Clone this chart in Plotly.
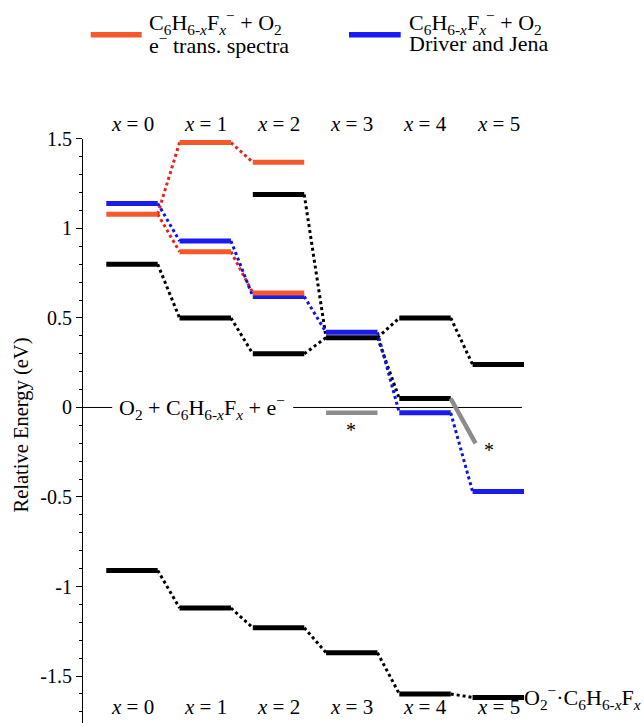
import plotly.graph_objects as go

FONT = "Liberation Serif"

# ---------------- data ----------------
columns = [0, 1, 2, 3, 4, 5]
col_labels = ["<i>x</i> = 0", "<i>x</i> = 1", "<i>x</i> = 2", "<i>x</i> = 3", "<i>x</i> = 4", "<i>x</i> = 5"]

# neutral + anion (black) levels
black_x = [0, 1, 2, 2, 3, 4, 4, 5]
black_y = [0.80, 0.50, 0.30, 1.19, 0.39, 0.50, 0.05, 0.24]
black_links = [(0, 1), (1, 2), (2, 4), (3, 4), (4, 5), (4, 6), (5, 7)]

# e- transmission spectra (red)
red_x = [0, 1, 1, 2, 2]
red_y = [1.08, 1.48, 0.87, 1.37, 0.64]
red_links = [(0, 1), (0, 2), (1, 3), (2, 4)]

# Driver and Jena (blue)
blue_x = [0, 1, 2, 3, 4, 5]
blue_y = [1.14, 0.93, 0.62, 0.42, -0.03, -0.47]
blue_links = [(0, 1), (1, 2), (2, 3), (3, 4), (4, 5)]

# O2- . C6H6-xFx complexes (black, bottom)
complex_x = [0, 1, 2, 3, 4, 5]
complex_y = [-0.91, -1.12, -1.23, -1.37, -1.60, -1.62]
complex_links = [(0, 1), (1, 2), (2, 3), (3, 4), (4, 5)]

# gray (*) levels
gray_level_x = [3]
gray_level_y = [-0.03]
gray_slope_x = [4.35, 4.69]
gray_slope_y = [0.05, -0.20]

y_ticks = [-1.5, -1, -0.5, 0, 0.5, 1, 1.5]
y_tick_text = ["-1.5", "-1", "-0.5", "0", "0.5", "1", "1.5"]

# ---------------- style ----------------
HW = 0.351
C_BLACK = "#000000"
C_RED_LVL = "#f4592b"
C_RED_DOT = "#e8201c"
C_BLUE_LVL = "#1a1af2"
C_BLUE_DOT = "#0a14e6"
C_GRAY = "#8c8c8c"
W, H = 644, 723
K = 0.983  # vertical calibration
XR = [-0.669, 5.433]
YR = [-1.7624, 1.5]


def X(px):
    return px / W


def Y(py):
    return (H - py) / (K * H)


fig = go.Figure()


def add_links(xs, ys, pairs, color):
    xx, yy = [], []
    for a, b in pairs:
        xx += [xs[a] + HW, xs[b] - HW, None]
        yy += [ys[a], ys[b], None]
    fig.add_trace(go.Scatter(x=xx, y=yy, mode="lines",
                             line=dict(color=color, width=3, dash="dot"),
                             hoverinfo="skip", showlegend=False))


def add_levels(xs, ys, color, width=5):
    xx, yy = [], []
    for c, v in zip(xs, ys):
        xx += [c - HW, c + HW, None]
        yy += [v, v, None]
    fig.add_trace(go.Scatter(x=xx, y=yy, mode="lines",
                             line=dict(color=color, width=width),
                             hoverinfo="skip", showlegend=False))


# zero reference line (broken around label)
fig.add_trace(go.Scatter(x=[XR[0], -0.27, None, 2.20, 5.323], y=[0, 0, None, 0, 0],
                         mode="lines", line=dict(color="black", width=1),
                         hoverinfo="skip", showlegend=False))

add_links(black_x, black_y, black_links, C_BLACK)
add_links(complex_x, complex_y, complex_links, C_BLACK)
add_links(red_x, red_y, red_links, C_RED_DOT)
add_links(blue_x, blue_y, blue_links, C_BLUE_DOT)

add_levels(black_x, black_y, C_BLACK)
add_levels(complex_x, complex_y, C_BLACK)
add_levels(blue_x, blue_y, C_BLUE_LVL)
add_levels(red_x, red_y, C_RED_LVL)
add_levels(gray_level_x, gray_level_y, C_GRAY, 4.5)
fig.add_trace(go.Scatter(x=gray_slope_x, y=gray_slope_y, mode="lines",
                         line=dict(color=C_GRAY, width=4.5),
                         hoverinfo="skip", showlegend=False))

ann = []
# column labels top and bottom
for c, lab in zip(columns, col_labels):
    for py in (125, 707):
        ann.append(dict(x=c, xref="x", y=Y(py), yref="paper", text=lab, showarrow=False,
                        xanchor="center", yanchor="middle",
                        font=dict(family=FONT, size=21, color="black")))

# zero-line label
ann.append(dict(x=X(117), xref="paper", y=0, yref="y",
                text="O<sub>2</sub> + C<sub>6</sub>H<sub>6-<i>x</i></sub>F<sub><i>x</i></sub> + e<sup>\u2212</sup>",
                showarrow=False, xanchor="left", yanchor="middle",
                font=dict(family=FONT, size=22, color="black")))

# complex label
ann.append(dict(x=X(522), xref="paper", y=complex_y[-1], yref="y",
                text="O<sub>2</sub><sup>\u2212</sup>\u00b7C<sub>6</sub>H<sub>6-<i>x</i></sub>F<sub><i>x</i></sub>",
                showarrow=False, xanchor="left", yanchor="middle",
                font=dict(family=FONT, size=22, color="black")))

# asterisks
for px, py in ((351, 431), (488.5, 450)):
    ann.append(dict(x=X(px), xref="paper", y=Y(py), yref="paper", text="*",
                    showarrow=False, xanchor="center", yanchor="middle",
                    font=dict(family=FONT, size=20, color="black")))

# y-axis title
ann.append(dict(x=X(21), xref="paper", y=Y(426), yref="paper", text="Relative Energy (eV)",
                textangle=-90, showarrow=False, xanchor="center", yanchor="middle",
                font=dict(family=FONT, size=20.5, color="black")))

# legend
leg1 = "C<sub>6</sub>H<sub>6-<i>x</i></sub>F<sub><i>x</i></sub><sup>\u2212</sup> + O<sub>2</sub>"
for px, l2 in ((147, "e<sup>\u2212</sup> trans. spectra"), (407, "Driver and Jena")):
    ann.append(dict(x=X(px), xref="paper", y=Y(24), yref="paper", text=leg1,
                    showarrow=False, xanchor="left", yanchor="middle",
                    font=dict(family=FONT, size=22, color="black")))
    ann.append(dict(x=X(px), xref="paper", y=Y(45), yref="paper", text=l2,
                    showarrow=False, xanchor="left", yanchor="middle",
                    font=dict(family=FONT, size=22, color="black")))

shapes = [
    dict(type="line", xref="paper", yref="paper", x0=X(90.7), x1=X(141.7), y0=Y(36), y1=Y(36),
         line=dict(color=C_RED_LVL, width=5.5)),
    dict(type="line", xref="paper", yref="paper", x0=X(349), x1=X(400.7), y0=Y(36), y1=Y(36),
         line=dict(color=C_BLUE_LVL, width=5.5)),
]

fig.update_layout(
    width=W, height=H,
    margin=dict(l=0, r=0, t=0, b=0),
    paper_bgcolor="white", plot_bgcolor="white",
    showlegend=False,
    font=dict(family=FONT, color="black"),
    annotations=ann, shapes=shapes,
    xaxis=dict(domain=[X(83), X(530)], range=XR, visible=False, fixedrange=True),
    yaxis=dict(domain=[0, Y(140)], range=YR, showgrid=False, zeroline=False,
               showline=True, linecolor="black", linewidth=1,
               tickmode="array", tickvals=y_ticks, ticktext=y_tick_text,
               ticks="outside", ticklen=6, tickwidth=1, tickcolor="black",
               tickfont=dict(family=FONT, size=20, color="black"),
               minor=dict(ticks="outside", ticklen=3, tickwidth=1, tickcolor="black",
                          tickmode="linear", tick0=0, dtick=0.1),
               fixedrange=True),
)

fig.write_html(
    "out.html",
    config={"displayModeBar": False, "staticPlot": True},
    post_script="document.body.style.margin='0';document.body.style.padding='0';"
                "document.body.style.overflow='hidden';",
)
